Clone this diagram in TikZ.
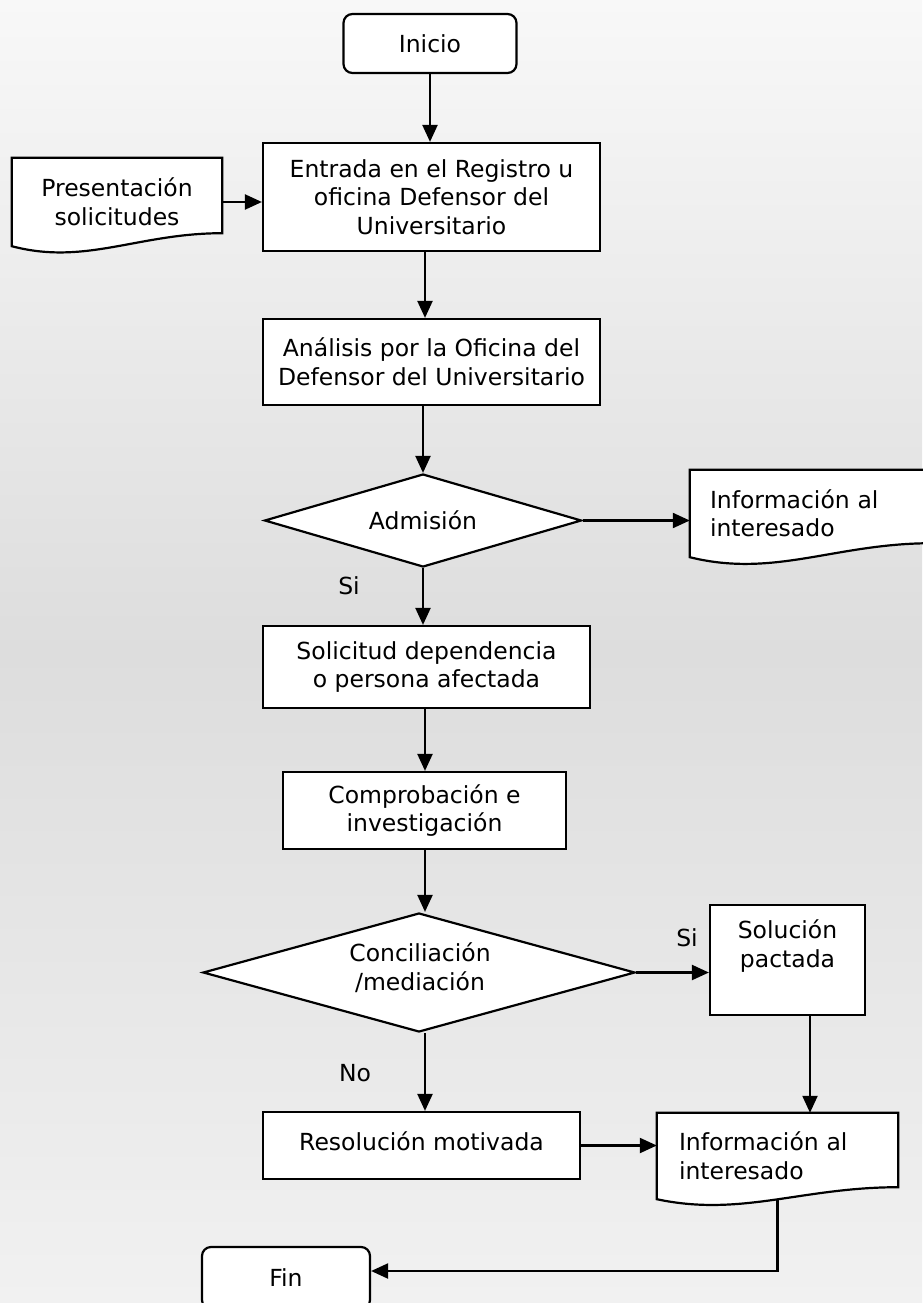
\documentclass[tikz,border=0pt]{standalone}
\usepackage{fontspec}
\setmainfont{DejaVu Sans}
\usetikzlibrary{shapes.geometric,arrows.meta,calc}
\pgfdeclarelayer{bg}
\pgfdeclarelayer{back}
\pgfsetlayers{bg,back,main}
\definecolor{bgtop}{HTML}{F8F8F8}
\definecolor{bgmid}{HTML}{DDDDDD}
\definecolor{bgbot}{HTML}{F1F1F1}
\newcommand\docpath[2]{%
  \draw[docline] (#1.north west) -- (#1.north east) -- ($(#1.south east)+(0,-#2)$)
    .. controls ($(#1.south west)!0.6!(#1.south east)+(0,-#2)$) and ($(#1.south west)!0.35!(#1.south east)+(0,{1.5*#2})$) .. (#1.south west) -- cycle;}
\tikzset{
  txtfont/.style={font=\fontsize{23.5}{28.5}\selectfont},
  box/.style={draw, line width=2.2pt, fill=white, inner sep=0pt, align=center, txtfont},
  rbox/.style={box, rounded corners=9pt},
  dia/.style={box, diamond},
  doc/.style={inner sep=0pt, align=left, txtfont},
  txt/.style={inner sep=0pt, align=center, txtfont},
  lbl/.style={inner sep=0pt, txtfont},
  docline/.style={draw, line width=2.2pt, fill=white},
  arr/.style={line width=2.2pt, -{Triangle[length=17pt,width=15pt]}}
}
\begin{document}
\begin{tikzpicture}[x=1pt,y=-1pt]
\begin{pgfonlayer}{bg}
\shade[top color=bgtop, bottom color=bgbot, middle color=bgmid] (0,0) rectangle (922,1303);
\end{pgfonlayer}
\path[use as bounding box] (0,0) rectangle (922,1303);

\coordinate (cx) at (425,0);
\coordinate (sx) at (810,0);

\node[rbox, minimum width=173, minimum height=59] (ini) at (430,43.5) {Inicio};
\node[box, minimum width=337, minimum height=108] (ent) at (431.5,197) {Entrada en el Registro u\\oficina Defensor del\\Universitario};
\node[txt, minimum width=210, minimum height=88, text width=210] (pres) at (117,202) {Presentación\\solicitudes};
\node[box, minimum width=337, minimum height=86] (ana) at (431.5,362) {Análisis por la Oficina del\\Defensor del Universitario};
\node[dia, minimum width=317, minimum height=93] (adm) at (423,520.5) {};
\node[txt] (admt) at (adm) {Admisión};
\node[doc, minimum height=87, text width=202, inner xsep=20pt] (info1) at (811,513.5) {Información al\\interesado};
\node[lbl] (si1) at (349,586) {Si};
\node[box, minimum width=327, minimum height=82] (sold) at (426.5,667) {Solicitud dependencia\\o persona afectada};
\node[box, minimum width=283, minimum height=77] (comp) at (424.5,810.5) {Comprobación e\\investigación};
\node[dia, minimum width=432, minimum height=119] (conc) at (419,972.5) {};
\node[txt] (conct) at (420,967.5) {Conciliación\\/mediación};
\node[box, minimum width=155, minimum height=110] (solp) at (787.5,960) {};
\node[txt] (solpt) at (787.5,946) {Solución\\pactada};
\node[lbl] (si2) at (687,938) {Si};
\node[lbl] (no) at (355,1073) {No};
\node[box, minimum width=317, minimum height=67] (res) at (421.5,1145.5) {};
\node[txt] (rest) at (421.5,1141) {Resolución motivada};
\node[doc, minimum height=86, text width=197, inner xsep=22pt] (info2) at (777.5,1156) {Información al\\interesado};
\node[rbox, minimum width=168, minimum height=62] (fin) at (286,1278) {Fin};
\coordinate (finin) at ($(fin.east)+(0,-7)$);

\begin{pgfonlayer}{back}
\docpath{pres}{13}
\docpath{info1}{14}
\docpath{info2}{12}
\end{pgfonlayer}

\draw[arr] (ini.south) -- (ini.south |- ent.north);
\draw[arr] (pres.east) -- (pres.east -| ent.west);
\draw[arr] (ent.south -| cx) -- (ana.north -| cx);
\draw[arr] (ana.south -| adm.north) -- (adm.north);
\draw[arr] (adm.east) -- (adm.east -| info1.west);
\draw[arr] (adm.south) -- (adm.south |- sold.north);
\draw[arr] (sold.south -| cx) -- (comp.north -| cx);
\draw[arr] (comp.south -| cx) -- (conc.north -| cx);
\draw[arr] (conc.east) -- (conc.east -| solp.west);
\draw[arr] (conc.south -| cx) -- (res.north -| cx);
\draw[arr] (solp.south -| sx) -- (info2.north -| sx);
\draw[arr] (res.east) -- (res.east -| info2.west);
\draw[arr] (info2.south) |- (finin);
\end{tikzpicture}
\end{document}
